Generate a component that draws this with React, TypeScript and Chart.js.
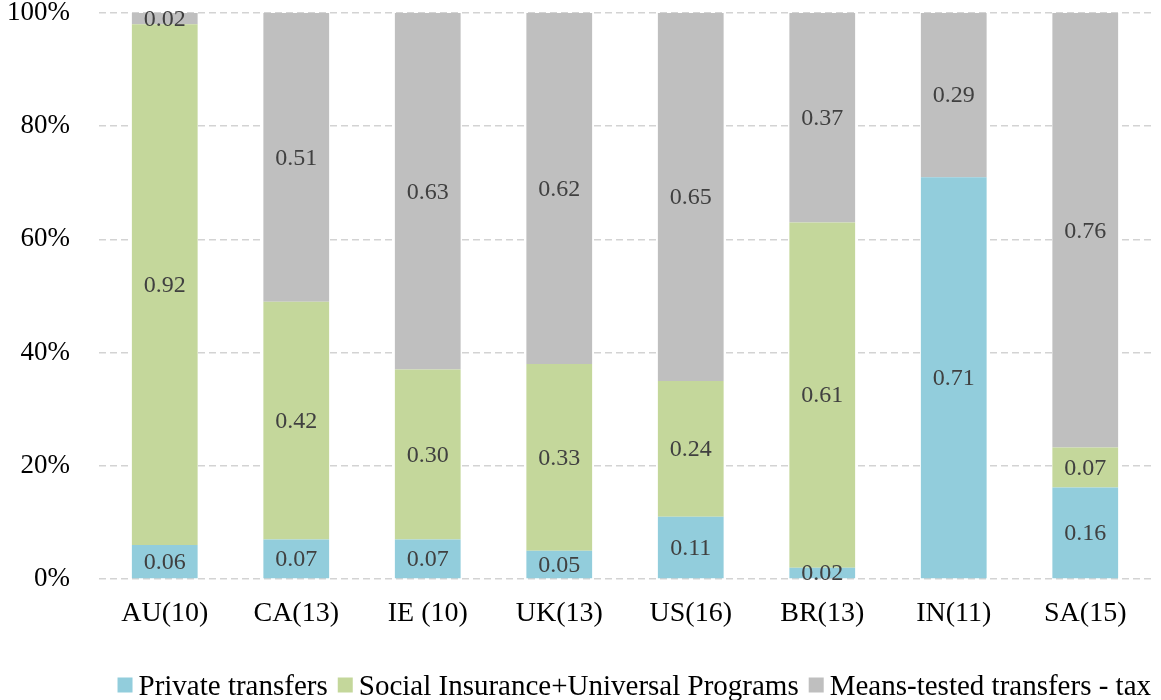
import React, { useEffect, useRef } from "react";
import { Chart, registerables } from "chart.js";

Chart.register(...registerables);

const categories = ["AU(10)", "CA(13)", "IE (10)", "UK(13)", "US(16)", "BR(13)", "IN(11)", "SA(15)"];
const privateTransfers = [0.06, 0.07, 0.07, 0.05, 0.11, 0.02, 0.71, 0.16];
const socialInsurance = [0.92, 0.42, 0.30, 0.33, 0.24, 0.61, 0.0, 0.07];
const meansTested = [0.02, 0.51, 0.63, 0.62, 0.65, 0.37, 0.29, 0.76];
const yTicks = [0, 0.2, 0.4, 0.6, 0.8, 1.0];

const FONT = "'Liberation Serif', 'Times New Roman', serif";

// 100% stacked: each column is scaled by its own total
const totals = categories.map((_, i) => privateTransfers[i] + socialInsurance[i] + meansTested[i]);
const share = (arr: number[]) => arr.map((v, i) => v / totals[i]);

// Writes each segment's stated value in the middle of its bar piece
const segmentLabels = {
  id: "segmentLabels",
  afterDatasetsDraw(chart: any) {
    const ctx = chart.ctx;
    ctx.save();
    ctx.font = `24px ${FONT}`;
    ctx.fillStyle = "#404040";
    ctx.textAlign = "center";
    ctx.textBaseline = "middle";
    chart.data.datasets.forEach((ds: any, di: number) => {
      const meta = chart.getDatasetMeta(di);
      meta.data.forEach((el: any, i: number) => {
        const v = ds.raw[i];
        if (!v) return;
        const y = (el.y + el.base) / 2;
        ctx.fillText(v.toFixed(2), el.x, y + 1);
      });
    });
    ctx.restore();
  },
};

// Compact legend row along the bottom, right-aligned with the plot area
const bottomLegend = {
  id: "bottomLegend",
  afterDraw(chart: any) {
    const ctx = chart.ctx;
    const box = 15;
    const gap = 6;
    const spacing = 10;
    const cy = 686;
    ctx.save();
    ctx.font = `29px ${FONT}`;
    ctx.textBaseline = "middle";
    ctx.textAlign = "left";
    const items = chart.data.datasets.map((ds: any) => ({
      text: ds.label,
      color: ds.backgroundColor,
      w: ctx.measureText(ds.label).width,
    }));
    const total =
      items.reduce((s: number, it: any) => s + box + gap + it.w, 0) + spacing * (items.length - 1);
    let x = chart.chartArea.right - total;
    items.forEach((it: any) => {
      ctx.fillStyle = it.color;
      ctx.fillRect(x, cy - box / 2 - 1, box, box);
      ctx.fillStyle = "#000";
      ctx.fillText(it.text, x + box + gap, cy + 1);
      x += box + gap + it.w + spacing;
    });
    ctx.restore();
  },
};

export default function App() {
  const ref = useRef<HTMLCanvasElement | null>(null);

  useEffect(() => {
    if (!ref.current) return;
    const chart = new Chart(ref.current, {
      type: "bar",
      data: {
        labels: categories,
        datasets: [
          { label: "Private transfers", data: share(privateTransfers), raw: privateTransfers, backgroundColor: "#92CDDC" } as any,
          { label: "Social Insurance+Universal Programs", data: share(socialInsurance), raw: socialInsurance, backgroundColor: "#C4D79B" } as any,
          { label: "Means-tested transfers - tax", data: share(meansTested), raw: meansTested, backgroundColor: "#BFBFBF" } as any,
        ],
      },
      options: {
        animation: false,
        responsive: false,
        maintainAspectRatio: false,
        layout: { padding: { left: 0, right: 10, top: 13, bottom: 40 } },
        datasets: { bar: { categoryPercentage: 1, barPercentage: 0.5 } },
        plugins: {
          tooltip: { enabled: false },
          legend: { display: false },
        },
        scales: {
          x: {
            stacked: true,
            grid: { display: false },
            border: { display: false },
            ticks: { font: { family: FONT, size: 28 }, color: "#000", padding: 10 },
            afterFit(scale: any) {
              scale.height = 81;
            },
          },
          y: {
            stacked: true,
            min: 0,
            max: 1,
            afterBuildTicks(scale: any) {
              scale.ticks = yTicks.map((v) => ({ value: v }));
            },
            afterFit(scale: any) {
              scale.width = 99;
              scale.paddingTop = 0;
              scale.paddingBottom = 0;
            },
            grid: { color: "#d3d3d3", lineWidth: 1.5, drawTicks: false },
            border: { display: false, dash: [7, 4] },
            ticks: {
              font: { family: FONT, size: 27 },
              color: "#000",
              padding: 29,
              callback: (v: any) => `${Math.round(Number(v) * 100)}%`,
            },
          },
        },
      },
      plugins: [segmentLabels, bottomLegend],
    });
    return () => chart.destroy();
  }, []);

  return (
    <div style={{ position: "fixed", left: 0, top: 0, width: 1161, height: 700, background: "#fff" }}>
      <canvas ref={ref} width={1161} height={700} />
    </div>
  );
}
